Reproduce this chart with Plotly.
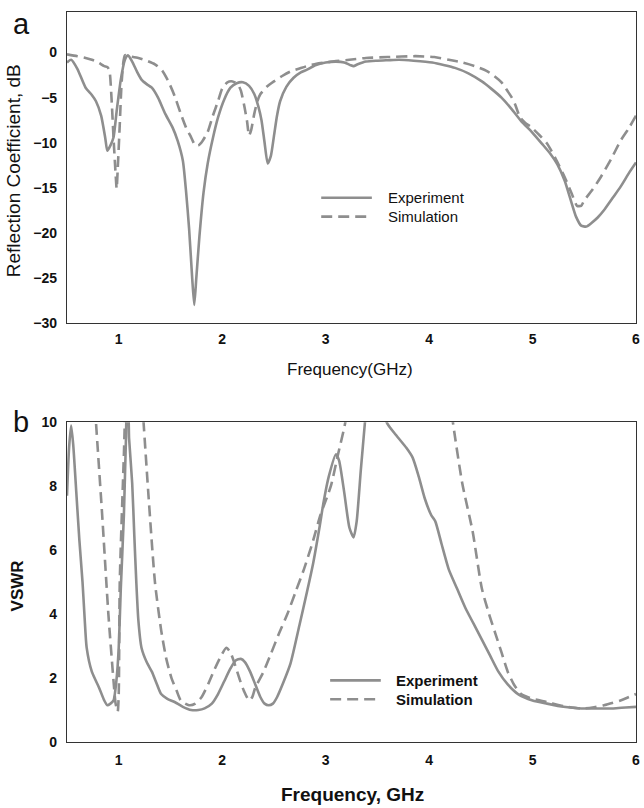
import plotly.graph_objects as go
from plotly.subplots import make_subplots

# ---------------- data: panel a (reflection coefficient, dB) ----------------
freq_exp_a = [0.50,0.54,0.60,0.68,0.74,0.78,0.83,0.87,0.89,0.92,0.95,0.98,1.02,1.06,1.09,1.13,1.18,1.22,1.27,1.32,
              1.38,1.45,1.52,1.57,1.62,1.65,1.68,1.71,1.73,1.75,1.78,1.82,1.86,1.91,1.96,2.02,2.08,2.14,2.20,2.26,
              2.31,2.35,2.38,2.41,2.44,2.47,2.50,2.53,2.56,2.62,2.69,2.76,2.82,2.90,3.00,3.10,3.18,3.24,3.27,3.31,
              3.39,3.50,3.60,3.71,3.85,4.03,4.15,4.25,4.38,4.51,4.60,4.70,4.80,4.89,5.00,5.09,5.17,5.24,5.31,5.37,
              5.42,5.47,5.52,5.57,5.63,5.69,5.77,5.85,5.93,6.00]
rc_exp_a = [-1.1,-0.8,-1.8,-3.9,-4.7,-5.4,-7.0,-9.5,-10.9,-10.3,-9.4,-6.5,-3.0,-0.8,-0.3,-1.0,-2.2,-3.0,-3.5,-3.9,
            -5.0,-6.8,-8.3,-9.8,-12.0,-15.3,-19.5,-25.0,-28.0,-25.0,-20.4,-15.5,-12.3,-9.5,-7.2,-5.2,-3.9,-3.4,-3.3,-3.7,
            -4.6,-6.0,-7.5,-10.0,-12.3,-11.5,-9.3,-7.0,-5.4,-3.8,-2.8,-2.2,-1.9,-1.4,-1.1,-1.0,-1.1,-1.4,-1.5,-1.3,
            -1.0,-0.9,-0.85,-0.8,-0.9,-1.1,-1.4,-1.7,-2.3,-3.2,-4.0,-5.0,-6.3,-7.6,-8.9,-10.1,-11.2,-12.4,-14.2,-16.4,
            -18.2,-19.2,-19.3,-18.9,-18.3,-17.5,-16.2,-14.9,-13.4,-12.2]

freq_sim_a = [0.50,0.60,0.68,0.74,0.80,0.86,0.89,0.91,0.93,0.95,0.97,0.98,0.99,1.01,1.03,1.06,1.10,1.19,1.27,1.35,
              1.42,1.48,1.54,1.60,1.65,1.70,1.74,1.77,1.81,1.86,1.91,1.96,2.00,2.05,2.10,2.15,2.18,2.21,2.24,2.26,
              2.28,2.31,2.34,2.37,2.43,2.50,2.58,2.66,2.74,2.82,2.91,3.00,3.10,3.23,3.39,3.60,3.87,4.05,4.19,4.32,
              4.44,4.55,4.63,4.70,4.76,4.80,4.83,4.88,4.93,4.99,5.07,5.14,5.22,5.31,5.38,5.43,5.47,5.50,5.58,5.66,
              5.76,5.85,5.93,6.00]
rc_sim_a = [-0.2,-0.4,-0.6,-0.8,-1.1,-1.5,-1.6,-2.0,-5.0,-9.5,-13.5,-15.1,-13.0,-8.0,-3.0,-0.3,-0.4,-0.6,-0.9,-1.3,
            -2.0,-3.2,-4.8,-6.8,-8.3,-9.4,-10.3,-10.3,-9.8,-8.8,-7.0,-5.4,-4.0,-3.3,-3.2,-3.5,-4.2,-5.7,-7.6,-9.2,
            -8.6,-6.8,-5.4,-4.6,-3.8,-3.2,-2.6,-2.1,-1.8,-1.5,-1.25,-1.1,-0.95,-0.8,-0.6,-0.5,-0.4,-0.5,-0.8,-1.1,
            -1.5,-2.0,-2.6,-3.3,-4.3,-5.0,-5.7,-7.2,-7.8,-8.3,-9.2,-10.1,-11.7,-13.8,-15.7,-17.0,-17.0,-16.4,-15.2,-13.8,
            -11.8,-9.8,-8.4,-7.0]

# ---------------- data: panel b (VSWR) ----------------
freq_exp_b = [0.50,0.52,0.54,0.56,0.59,0.62,0.65,0.67,0.69,0.74,0.81,0.86,0.89,0.92,0.95,0.98,1.00,1.02,1.05,1.07,
              1.08,1.09,1.10,1.13,1.15,1.17,1.19,1.22,1.27,1.32,1.37,1.41,1.47,1.54,1.62,1.70,1.77,1.83,1.90,1.96,
              2.02,2.08,2.13,2.18,2.22,2.27,2.32,2.37,2.41,2.45,2.49,2.53,2.59,2.66,2.75,2.82,2.88,2.94,2.98,3.03,
              3.10,3.13,3.18,3.23,3.27,3.30,3.34,3.38,3.42,3.50,3.56,3.59,3.68,3.78,3.84,3.90,3.96,4.02,4.06,4.12,
              4.19,4.27,4.35,4.43,4.51,4.59,4.67,4.76,4.86,5.00,5.14,5.30,5.47,5.62,5.78,5.90,6.00]
vswr_exp_b = [7.7,9.2,9.9,9.3,7.8,6.3,5.0,3.9,2.95,2.2,1.7,1.3,1.15,1.2,1.3,2.0,2.95,4.8,7.1,9.5,
              10.3,10.3,9.5,8.1,6.5,5.0,3.8,2.95,2.5,2.2,1.8,1.5,1.35,1.25,1.1,1.0,1.0,1.05,1.2,1.5,
              1.9,2.3,2.55,2.6,2.5,2.2,1.8,1.4,1.2,1.15,1.2,1.4,1.85,2.45,3.7,4.7,5.6,6.7,7.5,8.3,
              9.0,8.8,7.8,6.7,6.4,6.9,8.5,10.0,11.5,12.5,11.0,10.0,9.6,9.2,8.9,8.3,7.6,7.1,6.9,6.2,
              5.4,4.8,4.2,3.7,3.2,2.7,2.2,1.8,1.5,1.3,1.2,1.1,1.05,1.05,1.05,1.08,1.1]

freq_sim_b = [0.50,0.65,0.72,0.78,0.84,0.90,0.95,0.97,0.99,1.00,1.01,1.05,1.07,1.15,1.22,1.24,1.29,1.35,1.41,1.46,
              1.51,1.56,1.60,1.68,1.74,1.80,1.87,1.93,1.99,2.04,2.08,2.12,2.17,2.21,2.26,2.29,2.32,2.40,2.47,2.55,
              2.63,2.71,2.79,2.87,2.95,3.05,3.12,3.19,3.24,3.40,3.80,4.15,4.23,4.32,4.42,4.51,4.58,4.64,4.70,4.76,
              4.82,4.89,5.00,5.14,5.30,5.47,5.58,5.69,5.85,6.00]
vswr_sim_b = [20.0,16.0,13.0,10.0,7.1,4.0,1.9,1.2,0.95,1.5,5.0,9.0,11.0,14.0,11.0,10.0,7.6,5.0,3.5,2.6,
              2.0,1.6,1.3,1.15,1.2,1.4,1.85,2.3,2.7,2.95,2.8,2.45,1.95,1.6,1.3,1.4,1.7,2.2,2.75,3.4,
              4.0,4.7,5.4,6.2,7.1,8.0,9.0,10.0,11.5,15.0,20.0,12.0,10.0,8.1,6.6,4.8,4.0,3.4,2.8,2.2,
              1.8,1.5,1.35,1.25,1.12,1.05,1.08,1.15,1.3,1.5]

series_names = ["Experiment", "Simulation"]
x_ticks = [1, 2, 3, 4, 5, 6]
y_ticks_a = [0, -5, -10, -15, -20, -25, -30]
y_ticks_b = [0, 2, 4, 6, 8, 10]

LINE = "#8e8e8e"
FONT = "Liberation Sans, Arial, sans-serif"
DASH = "11px,6px"
TXT = "#111111"

fig = make_subplots(rows=2, cols=1)

line_solid = dict(color=LINE, width=2.6, shape="spline", smoothing=0.6)
line_dash = dict(color=LINE, width=2.6, dash=DASH, shape="spline", smoothing=0.6)

fig.add_trace(go.Scatter(x=freq_exp_a, y=rc_exp_a, mode="lines", name=series_names[0], line=line_solid), row=1, col=1)
fig.add_trace(go.Scatter(x=freq_sim_a, y=rc_sim_a, mode="lines", name=series_names[1], line=line_dash), row=1, col=1)
fig.add_trace(go.Scatter(x=freq_exp_b, y=vswr_exp_b, mode="lines", name=series_names[0], line=line_solid), row=2, col=1)
fig.add_trace(go.Scatter(x=freq_sim_b, y=vswr_sim_b, mode="lines", name=series_names[1], line=line_dash), row=2, col=1)

tickfont = dict(family=FONT, size=14, color=TXT, weight="bold")
axis_common = dict(showline=True, mirror=True, linecolor="#333333", linewidth=1.2,
                   showgrid=False, zeroline=False, ticks="outside",
                   tickcolor="rgba(0,0,0,0)", tickfont=tickfont)

fig.update_xaxes(range=[0.5, 6], tickvals=x_ticks, **axis_common)
fig.update_yaxes(ticklen=6, **axis_common)
fig.update_layout(
    xaxis=dict(domain=[0, 1], anchor="y", ticklen=3),
    yaxis=dict(domain=[0.574, 1.0], range=[-30, 4.5], tickvals=y_ticks_a, anchor="x"),
    xaxis2=dict(domain=[0, 1], anchor="y2", ticklen=5),
    yaxis2=dict(domain=[0.0, 0.438], range=[0, 10], tickvals=y_ticks_b, anchor="x2"),
)

W, H = 644, 808
ml, mr, mt, mb = 67, 4, 7, 66
pw, ph = W - ml - mr, H - mt - mb

def px_x(px):
    return (px - ml) / pw

def px_y(py):
    return (H - mb - py) / ph

annos = [
    dict(text="a", x=px_x(21), y=px_y(19), font=dict(size=29, family=FONT, color=TXT)),
    dict(text="b", x=px_x(21), y=px_y(420), font=dict(size=29, family=FONT, color=TXT)),
    dict(text="Frequency(GHz)", x=px_x(352), y=px_y(367), font=dict(size=17, family=FONT, color=TXT)),
    dict(text="Frequency, GHz", x=px_x(355), y=px_y(795),
         font=dict(size=19, family=FONT, color=TXT, weight="bold")),
    dict(text="Reflection Coefficient, dB", x=px_x(14), y=px_y(167), textangle=-90,
         font=dict(size=19, family=FONT, color=TXT)),
    dict(text="VSWR", x=px_x(17), y=px_y(585), textangle=-90,
         font=dict(size=17, family=FONT, color=TXT, weight="bold")),
]

# legends drawn as key lines + labels
legend_specs = [
    (323, 374, 388, [194, 213], False),
    (332, 383, 396, [680, 699], True),
]
shapes = []
for x0, x1, tx, ys, bold in legend_specs:
    for name, yy, dash in zip(series_names, ys, [None, DASH]):
        ln = dict(color=LINE, width=2.6)
        if dash:
            ln["dash"] = dash
        shapes.append(dict(type="line", xref="paper", yref="paper",
                           x0=px_x(x0), x1=px_x(x1), y0=px_y(yy), y1=px_y(yy), line=ln))
        f = dict(size=15, family=FONT, color=TXT)
        if bold:
            f["weight"] = "bold"
        annos.append(dict(text=name, x=px_x(tx), y=px_y(yy), xanchor="left", font=f))

for a in annos:
    a.setdefault("xanchor", "center")
    a.update(xref="paper", yref="paper", showarrow=False, yanchor="middle")

fig.update_layout(
    width=W, height=H,
    margin=dict(l=ml, r=mr, t=mt, b=mb),
    paper_bgcolor="white", plot_bgcolor="white",
    font=dict(family=FONT, color=TXT),
    annotations=annos,
    shapes=shapes,
    showlegend=False,
)

fig.write_html("out.html")
